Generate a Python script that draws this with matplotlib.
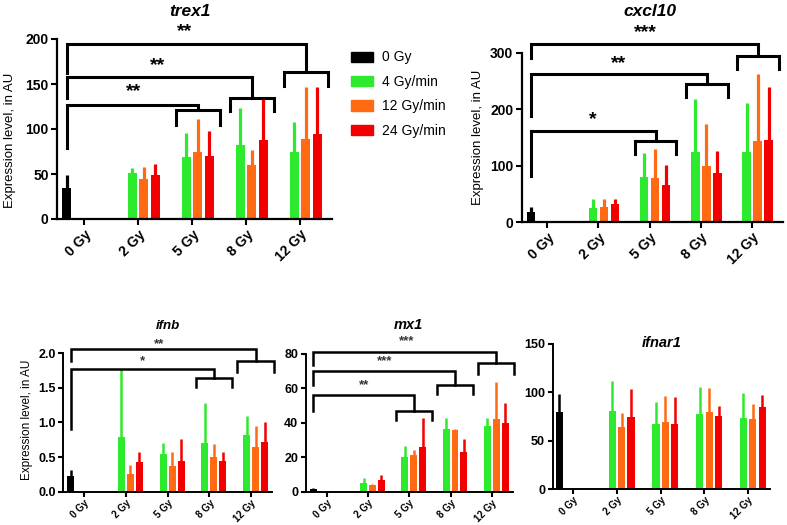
import matplotlib.pyplot as plt
import numpy as np

plt.rcParams['font.family'] = ['Liberation Sans', 'DejaVu Sans']

W, H = 787, 525
groups = ['0 Gy', '2 Gy', '5 Gy', '8 Gy', '12 Gy']
series = ['0 Gy', '4 Gy/min', '12 Gy/min', '24 Gy/min']
colors = ['#000000', '#2EEA2E', '#FF6A12', '#F20000']

# means and upper SD; black = 0 Gy control, others = 2, 5, 8, 12 Gy
trex1_ctrl, trex1_ctrl_sd = 34.8, 14
trex1_green, trex1_green_sd = [51, 69, 82, 75], [6, 27, 41, 33]
trex1_orange, trex1_orange_sd = [44.4, 74, 60, 89], [13.4, 37.5, 17, 58]
trex1_red, trex1_red_sd = [49.3, 69.6, 87.8, 94], [11.7, 28, 45, 53]

cxcl10_ctrl, cxcl10_ctrl_sd = 17, 10
cxcl10_green, cxcl10_green_sd = [24.4, 79.6, 124, 124.8], [15.6, 43.4, 93, 86]
cxcl10_orange, cxcl10_orange_sd = [26.7, 78.4, 98.6, 143.8], [14.3, 50.6, 75, 119]
cxcl10_red, cxcl10_red_sd = [31, 65.4, 87.3, 145.6], [9, 36, 39, 94]

ifnb_ctrl, ifnb_ctrl_sd = 0.23, 0.09
ifnb_green, ifnb_green_sd = [0.79, 0.545, 0.71, 0.82], [0.98, 0.165, 0.57, 0.27]
ifnb_orange, ifnb_orange_sd = [0.25, 0.37, 0.5, 0.65], [0.135, 0.21, 0.19, 0.3]
ifnb_red, ifnb_red_sd = [0.43, 0.44, 0.44, 0.72], [0.15, 0.32, 0.14, 0.28]

mx1_ctrl, mx1_ctrl_sd = 1.5, 0.6
mx1_green, mx1_green_sd = [5.2, 19.9, 36.6, 38.2], [2.5, 6.7, 6.2, 4.4]
mx1_orange, mx1_orange_sd = [3.9, 21.6, 36, 42.2], [0.5, 2.9, 0.6, 21.8]
mx1_red, mx1_red_sd = [6.7, 26, 23.1, 40.1], [3.1, 16.8, 7.4, 11.3]

ifnar1_ctrl, ifnar1_ctrl_sd = 79.7, 18.3
ifnar1_green, ifnar1_green_sd = [80.7, 67.6, 78, 73.1], [31, 22.7, 27.9, 25.9]
ifnar1_orange, ifnar1_orange_sd = [64.5, 69.7, 80, 72], [13.8, 26.5, 24.5, 16]
ifnar1_red, ifnar1_red_sd = [74.1, 67.2, 75.5, 84.8], [28.9, 27.6, 10.4, 12.4]

# significance brackets: (target group, left start, top, sub level, leg end, star x, star y, stars)
trex1_sig = [(2, 78.5, 127, 120.7, 104.8, 0.91, 142, '**'),
             (3, 134, 157.4, 134.4, 119.6, 1.37, 171, '**'),
             (4, 162, 195, 163, 147.4, 1.87, 208, '**')]
cxcl10_sig = [(2, 82, 162, 142.6, 120, 0.89, 182, '*'),
              (3, 187, 261.4, 243.6, 221, 1.39, 281, '**'),
              (4, 291, 315, 294, 271.5, 1.91, 335, '***')]
ifnb_sig = [(3, 0.9, 1.77, 1.65, 1.51, 1.4, 1.88, '*'),
            (4, 1.89, 2.06, 1.89, 1.73, 1.8, 2.13, '**')]
mx1_sig = [(2, 46.8, 56.3, 46.8, 41.4, 0.91, 62, '**'),
           (3, 62, 70, 61.7, 56.5, 1.41, 76, '***'),
           (4, 73.8, 81.3, 74.6, 68.2, 1.94, 87.5, '***')]

slot = 0.215
bw = 0.165


def box(left, right, y0, ytop):
    # pixel box -> figure fraction
    return [left / W, 1 - y0 / H, (right - left) / W, (y0 - ytop) / H]


def panel(rect, xlim, ylim, yticks, ctrl, ctrl_sd, vals, sds, sig, big=True, fmt=None):
    ax = fig.add_axes(rect)
    lw = 2.3 if big else 1.8
    x0 = -1.5 * slot
    ax.bar(x0, ctrl, width=bw, color=colors[0])
    ax.errorbar(x0, ctrl, yerr=[[0], [ctrl_sd]], fmt='none', ecolor=colors[0], elinewidth=lw, capsize=0)
    for k in range(3):
        xs = np.arange(1, 5) + (k - 0.5) * slot
        ax.bar(xs, vals[k], width=bw, color=colors[k + 1])
        ax.errorbar(xs, vals[k], yerr=[np.zeros(4), sds[k]], fmt='none', ecolor=colors[k + 1],
                    elinewidth=lw, capsize=0)
    blw = 2.2 if big else 1.8
    sl, sr = (-0.29, 0.52) if big else (-0.33, 0.54)
    for g, ylo, ytop, ysub, yleg, sx, sy, st in sig:
        xd = g + (sl + sr) / 2
        ax.plot([x0, x0, xd, xd], [ylo, ytop, ytop, ysub], color='black', lw=blw, clip_on=False,
                solid_joinstyle='miter')
        ax.plot([g + sl, g + sl, g + sr, g + sr], [yleg, ysub, ysub, yleg], color='black', lw=blw,
                clip_on=False, solid_joinstyle='miter')
        ax.text(sx, sy, st, ha='center', va='center', fontsize=14 if big else 9.5,
                fontweight='bold', color='black' if big else '#333333', clip_on=False)
    ax.set_xlim(*xlim)
    ax.set_ylim(*ylim)
    ax.set_yticks(yticks)
    if fmt:
        ax.set_yticklabels([fmt % v for v in yticks])
    ax.set_xticks(range(5))
    ax.set_xticklabels(groups, rotation=45, ha='right', rotation_mode='anchor')
    for s in ['top', 'right']:
        ax.spines[s].set_visible(False)
    for s in ['left', 'bottom']:
        ax.spines[s].set_linewidth(1.6 if big else 1.4)
    ax.tick_params(length=4 if big else 3.5, width=1.5, pad=2)
    ax.tick_params(axis='y', labelsize=10 if big else 9)
    ax.tick_params(axis='x', labelsize=10 if big else 7, pad=2 if big else 1)
    for t in ax.get_xticklabels() + ax.get_yticklabels():
        t.set_fontweight('bold')
    return ax


fig = plt.figure(figsize=(W / 100, H / 100), dpi=100)

panel(box(57, 332.4, 219, 39), (-0.5, 4.6), (0, 200), [0, 50, 100, 150, 200],
      trex1_ctrl, trex1_ctrl_sd, [trex1_green, trex1_orange, trex1_red],
      [trex1_green_sd, trex1_orange_sd, trex1_red_sd], trex1_sig)
panel(box(521.7, 782.8, 222, 52.6), (-0.5, 4.6), (0, 300), [0, 100, 200, 300],
      cxcl10_ctrl, cxcl10_ctrl_sd, [cxcl10_green, cxcl10_orange, cxcl10_red],
      [cxcl10_green_sd, cxcl10_orange_sd, cxcl10_red_sd], cxcl10_sig)
panel(box(63.4, 272, 491.7, 353.3), (-0.5, 4.5), (0, 2.0), [0, 0.5, 1.0, 1.5, 2.0],
      ifnb_ctrl, ifnb_ctrl_sd, [ifnb_green, ifnb_orange, ifnb_red],
      [ifnb_green_sd, ifnb_orange_sd, ifnb_red_sd], ifnb_sig, big=False, fmt='%.1f')
panel(box(306, 512.5, 491.7, 354), (-0.5, 4.5), (0, 80), [0, 20, 40, 60, 80],
      mx1_ctrl, mx1_ctrl_sd, [mx1_green, mx1_orange, mx1_red],
      [mx1_green_sd, mx1_orange_sd, mx1_red_sd], mx1_sig, big=False)
panel(box(552.7, 770, 489, 344), (-0.47, 4.5), (0, 150), [0, 50, 100, 150],
      ifnar1_ctrl, ifnar1_ctrl_sd, [ifnar1_green, ifnar1_orange, ifnar1_red],
      [ifnar1_green_sd, ifnar1_orange_sd, ifnar1_red_sd], [], big=False)

# titles
for name, x, y, fs in [('trex1', 190, 12, 12.5), ('cxcl10', 650, 11, 12.5),
                       ('ifnb', 168, 326, 9.5), ('mx1', 408, 325, 10.5), ('ifnar1', 662, 343, 10.5)]:
    fig.text(x / W, 1 - y / H, name, ha='center', va='center', fontsize=fs,
             fontweight='bold', fontstyle='italic')

# y labels
for x, y, fs in [(10, 140, 9.5), (478, 137, 9.5), (27, 420, 8.5)]:
    fig.text(x / W, 1 - y / H, 'Expression level, in AU', rotation=90, ha='center', va='center', fontsize=fs)

# legend
handles = [plt.Rectangle((0, 0), 1, 1, color=c) for c in colors]
fig.legend(handles, series, loc='upper left', bbox_to_anchor=(338 / W, 1 - 38 / H), frameon=False,
           fontsize=10, handlelength=1.6, handleheight=0.75, handletextpad=0.7, labelspacing=0.75)

plt.savefig('out.png', dpi=100)
plt.close()
